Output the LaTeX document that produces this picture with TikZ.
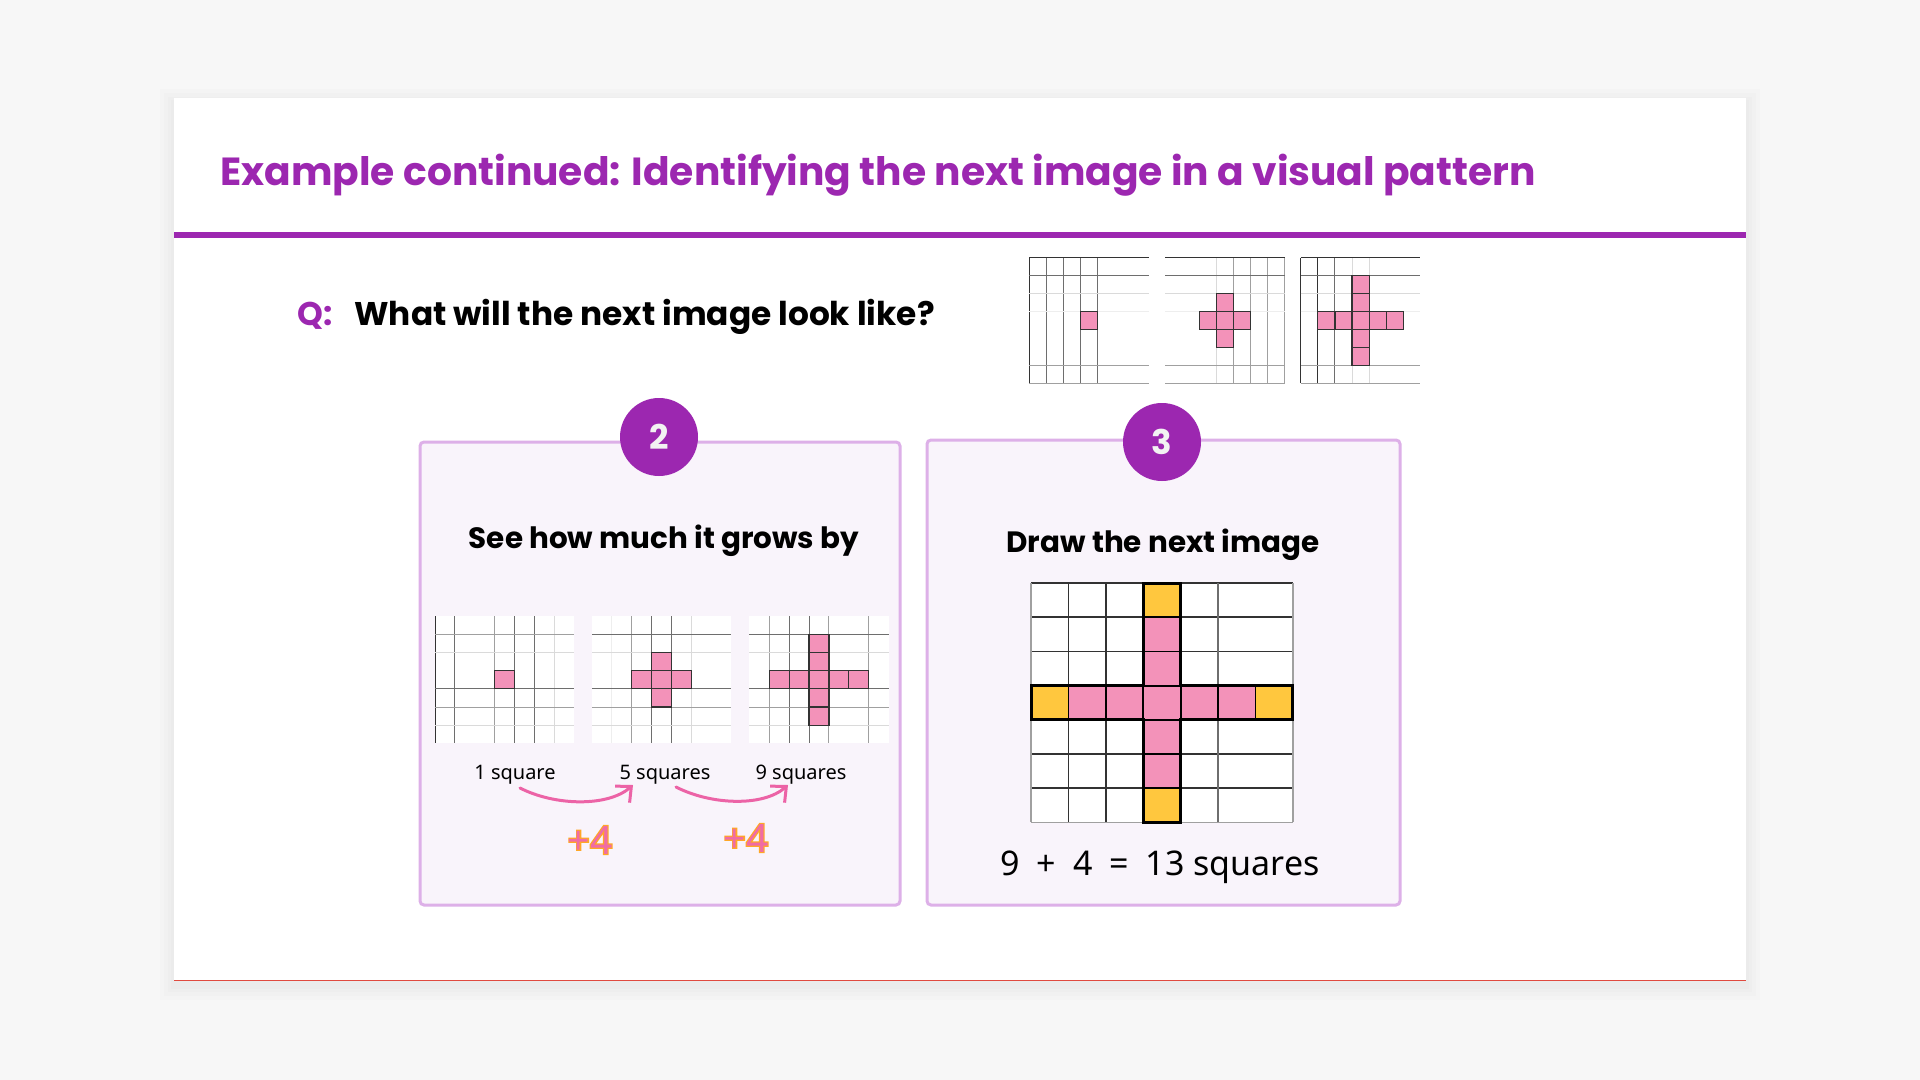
\documentclass[tikz,border=0pt]{standalone}
\usepackage{fontspec}
\setmainfont{Noto Sans}
\newfontfamily\popfont{Poppins}
\newfontface\plusstroke{Noto Sans}[FakeBold=6]
\usetikzlibrary{
    positioning,
    arrows.meta,
    calc
}
\definecolor{pagegray}{HTML}{F7F7F7}
\definecolor{brandpurple}{HTML}{9C27B0}
\definecolor{cardedge}{HTML}{DDB0E8}
\definecolor{cardfill}{HTML}{F9F4FB}
\definecolor{tilepink}{HTML}{F392B9}
\definecolor{tileyellow}{HTML}{FFC73E}
\definecolor{arcpink}{HTML}{EC63A6}
\definecolor{plusorange}{HTML}{FFA726}
\definecolor{pluspink}{HTML}{F06CA5}
\definecolor{edgered}{HTML}{E04A3F}
\definecolor{gA}{HTML}{333333}
\definecolor{gB}{HTML}{6E6E6E}
\definecolor{gC}{HTML}{A0A0A0}
\definecolor{gD}{HTML}{DADADA}
\definecolor{gE}{HTML}{EEEEEE}
\tikzset{
    stepcard/.style={draw=cardedge, line width=1.5pt, fill=cardfill, rounded corners=2pt},
    stepnum/.style={circle, fill=brandpurple, minimum size=39pt, inner sep=0pt, text=white!95!black, font=\popfont\bfseries\fontsize{17}{20}\selectfont},
    heading/.style={font=\popfont\bfseries\fontsize{14.7}{18}\selectfont},
    countlabel/.style={font=\fontsize{10}{12}\selectfont, inner sep=1pt},
    growby/.style={font=\fontsize{19.5}{23}\selectfont, inner sep=0pt},
    growarc/.style={arcpink, line width=1.5pt, line cap=round, -{Straight Barb[length=6pt, width=11pt, line width=1.5pt]}},
    pinktile/.style={fill=tilepink, draw=gA, line width=0.6pt},
    bigpink/.style={fill=tilepink, draw=black, line width=0.9pt},
    bigyellow/.style={fill=tileyellow, draw=black, line width=0.9pt}
}
\newcommand\growtext[1]{\rlap{\plusstroke\textcolor{plusorange}{#1}}\textcolor{pluspink}{#1}}
\newcommand\patgrid[6]{%
    \fill[white] (#1,#2) rectangle ++(7*#3,7*#4);
    \foreach \i/\c in {#5} \draw[draw=\c, line width=0.5pt] ({#1+\i*#3},#2) -- ++(0,7*#4);
    \foreach \j/\c in {#6} \draw[draw=\c, line width=0.5pt] (#1,{#2+\j*#4}) -- ++(7*#3,0);
}
\newcommand\tile[7]{\path[#7] ({#1+(#5)*#3},{#2+(#6)*#4}) rectangle ++(#3,#4);}
\newcommand\plusshape[5]{%
    \foreach \k in {-#5,...,#5} {\tile{#1}{#2}{#3}{#4}{3+\k}{3}{pinktile}\tile{#1}{#2}{#3}{#4}{3}{3+\k}{pinktile}}%
}

\begin{document}
\begin{tikzpicture}[x=0.5pt, y=-0.5pt]
    \useasboundingbox (0,0) rectangle (1920,1080);
    \fill[pagegray] (0,0) rectangle (1920,1080);
    \foreach \s in {14,10,6,3}
        \fill[black, opacity=0.012] (174-\s,98-\s+5) rectangle (1746+\s,981+\s+5);
    \fill[white] (174,98) rectangle (1746,981);
    \draw[edgered, line width=0.6pt] (174,980.5) -- (1746,980.5);
    \draw[brandpurple, line width=3pt] (174,235) -- (1746,235);

    \node[anchor=base west, inner sep=0pt, text=brandpurple, font=\popfont\bfseries\fontsize{19.6}{24}\selectfont] (title) at (220,186) {Example continued: Identifying the next image in a visual pattern};
    \node[anchor=base west, inner sep=0pt, text=brandpurple, font=\popfont\bfseries\fontsize{16.4}{20}\selectfont] (qmark) at (297,326) {Q:};
    \node[anchor=base west, inner sep=0pt, font=\popfont\bfseries\fontsize{16.4}{20}\selectfont] (question) at (354,326) {What will the next image look like?};

    \patgrid{1029}{258}{17.1}{17.9}{0/gA,1/gB,2/gB,3/gB,4/gB}{0/gA,1/gB,2/gD,3/gE,6/gC,7/gC}
    \plusshape{1029}{258}{17.1}{17.9}{0}
    \patgrid{1165}{258}{17.1}{17.9}{3/gD,4/gC,5/gC,6/gC,7/gC}{0/gA,1/gB,2/gD,3/gE,6/gC,7/gC}
    \plusshape{1165}{258}{17.1}{17.9}{1}
    \patgrid{1300.7}{258}{17.1}{17.9}{0/gA,1/gA,2/gB,3/gD,4/gD}{0/gA,1/gB,2/gD,3/gE,6/gC,7/gC}
    \plusshape{1300.7}{258}{17.1}{17.9}{2}

    \path[stepcard] (420,442) rectangle (900,905);
    \path[stepcard] (927,440) rectangle (1400,905);
    \node[stepnum] (num2) at (659,437) {2};
    \node[stepnum] (num3) at (1162,442) {3};
    \node[heading, anchor=base] (growhead) at (664,548) {See how much it grows by};
    \node[heading, anchor=base] (drawhead) at (1163,552) {Draw the next image};

    \patgrid{435}{616}{19.9}{18.2}{0/gA,1/gB,3/gC,4/gB,5/gB,6/gD}{1/gC,2/gD,4/gB,5/gC,6/gD}
    \plusshape{435}{616}{19.9}{18.2}{0}
    \patgrid{592}{616}{19.9}{18.2}{1/gE,2/gC,3/gB,4/gB,5/gD}{1/gB,2/gD,4/gB,5/gC,6/gD}
    \plusshape{592}{616}{19.9}{18.2}{1}
    \patgrid{749.3}{616}{19.9}{18.2}{1/gC,2/gB,3/gB,4/gC,6/gC}{1/gB,2/gD,4/gB,5/gC,6/gD}
    \plusshape{749.3}{616}{19.9}{18.2}{2}

    \node[countlabel, anchor=base] (sq1) at (515,779) {1 square};
    \node[countlabel, anchor=base] (sq5) at (665,779) {5 squares};
    \node[countlabel, anchor=base] (sq9) at (801,779) {9 squares};
    \draw[growarc] ($(sq1.base)+(5,9)$) .. controls +(35,18) and +(-25,22) .. ($(sq5.base)+(-32,6)$);
    \draw[growarc] ($(sq5.base)+(11,8)$) .. controls +(35,18) and +(-25,22) .. ($(sq9.base)+(-13,6)$);
    \node[growby, anchor=base] (plusA) at (590,854) {\growtext{+4}};
    \node[growby, anchor=base] (plusB) at (746,852) {\growtext{+4}};

    \begin{scope}[shift={(1031,583)}]
        \fill[white] (0,0) rectangle (261.8,239.4);
        \foreach \j in {0,...,6} \draw[gA, line width=0.75pt] (0,\j*34.2) -- (261.8,\j*34.2);
        \draw[gC, line width=0.75pt] (0,239.4) -- (261.8,239.4);
        \foreach \i/\c in {0/gC,1/gA,2/gA,3/gA,4/gA,5/gB,7/gC} \draw[draw=\c, line width=0.75pt] (\i*37.4,0) -- (\i*37.4,239.4);
        \foreach \k in {1,2,4,5} {
            \tile{0}{0}{37.4}{34.2}{3}{\k}{bigpink}
        }
        \foreach \k in {1,...,5} {
            \tile{0}{0}{37.4}{34.2}{\k}{3}{bigpink}
        }
        \tile{0}{0}{37.4}{34.2}{3}{0}{bigyellow}
        \tile{0}{0}{37.4}{34.2}{0}{3}{bigyellow}
        \tile{0}{0}{37.4}{34.2}{6}{3}{bigyellow}
        \tile{0}{0}{37.4}{34.2}{3}{6}{bigyellow}
        \draw[black, line width=1.5pt] (112.2,0) -- (149.6,0) -- (149.6,102.6) -- (261.8,102.6) -- (261.8,136.8) -- (149.6,136.8) -- (149.6,239.4) -- (112.2,239.4) -- (112.2,136.8) -- (0,136.8) -- (0,102.6) -- (112.2,102.6) -- cycle;
    \end{scope}
    \node[anchor=base, font=\fontsize{17}{20}\selectfont] (total) at (1160,875) {9\hspace{4pt} + \hspace{4pt}4\hspace{4pt} = \hspace{4pt}13 squares};
\end{tikzpicture}
\end{document}
